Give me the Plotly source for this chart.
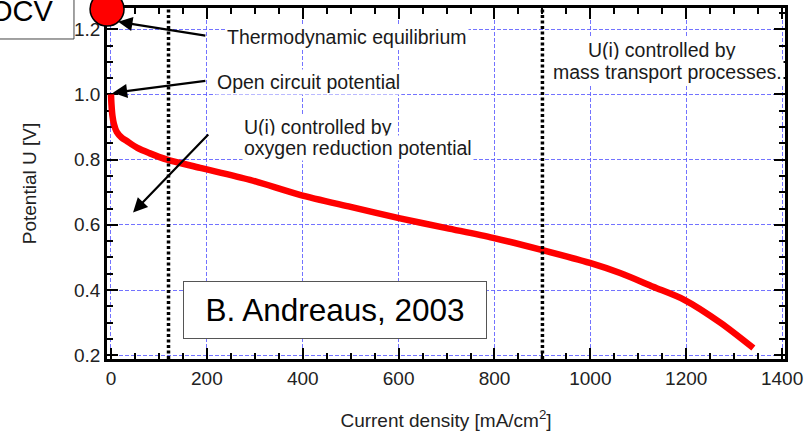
import plotly.graph_objects as go

# ---- data ----
current_density = [0, 1, 3, 6, 12, 22, 33, 55, 80, 117, 186, 290, 394, 500, 603, 700, 797, 898,
                   999, 1062, 1131, 1196, 1271, 1340]
potential = [1.0, 0.97, 0.935, 0.91, 0.885, 0.868, 0.857, 0.836, 0.82, 0.80, 0.775, 0.738,
             0.692, 0.655, 0.62, 0.59, 0.56, 0.523, 0.483, 0.452, 0.41, 0.37, 0.30, 0.222]
region_bounds = [120, 900]          # dotted vertical separators
ocv_point_x = [-8.2]
ocv_point_y = [1.262]
x_ticks = [0, 200, 400, 600, 800, 1000, 1200, 1400]
y_ticks = [0.2, 0.4, 0.6, 0.8, 1.0, 1.2]

FONT = "Liberation Sans, Arial, sans-serif"
TXT = 19.5
GRID = "rgba(90,90,255,0.85)"

fig = go.Figure()

fig.add_trace(go.Scatter(
    x=current_density, y=potential, mode="lines",
    line=dict(color="#ff0000", width=6.5, shape="spline", smoothing=0.8),
    showlegend=False, hoverinfo="skip"))

# OCV marker
fig.add_trace(go.Scatter(
    x=ocv_point_x, y=ocv_point_y, mode="markers", cliponaxis=False,
    marker=dict(size=34, color="#ff0000", line=dict(color="black", width=1.5)),
    showlegend=False, hoverinfo="skip"))

for xb in region_bounds:
    fig.add_shape(type="line", xref="x", yref="paper", x0=xb, x1=xb, y0=0, y1=1,
                  line=dict(color="black", width=3.5, dash="3px,2.5px"), layer="above")

# OCV box
fig.add_shape(type="rect", xref="paper", yref="paper", x0=-0.19, x1=-0.0487, y0=0.9117, y1=1.06,
              line=dict(color="#444", width=1), fillcolor="white", layer="above")
fig.add_annotation(xref="paper", yref="paper", x=-0.1254, y=0.9915, text="OCV",
                   showarrow=False, font=dict(family=FONT, size=29, color="black"),
                   xanchor="center", yanchor="middle")

# arrows
arrows = [((15, 1.223), (200, 1.18)),
          ((4, 1.005), (200, 1.042)),
          ((46, 0.638), (206, 0.882))]
for (hx, hy), (tx, ty) in arrows:
    fig.add_annotation(x=hx, y=hy, ax=tx, ay=ty, xref="x", yref="y", axref="x", ayref="y",
                       text="", showarrow=True, arrowhead=2, arrowsize=1.3, arrowwidth=2.2,
                       arrowcolor="black", standoff=0)

def label(x, y, text, anchor="left"):
    fig.add_annotation(x=x, y=y, xref="x", yref="y", text=text, showarrow=False,
                       xanchor=anchor, yanchor="middle", bgcolor="white", borderpad=1,
                       font=dict(family=FONT, size=TXT, color="#1a1a1a"))

label(238, 1.1764, "Thermodynamic equilibrium")
label(217, 1.0383, "Open circuit potential")
label(273, 0.9003, "U(i) controlled by")
label(273, 0.8359, "oxygen reduction potential")
label(1150, 1.1365, "U(i) controlled by", "center")
label(1160, 1.069, "mass transport processes.", "center")

fig.add_annotation(x=467, y=0.3374, xref="x", yref="y", text="B. Andreaus, 2003",
                   showarrow=False, xanchor="center", yanchor="middle",
                   bgcolor="white", bordercolor="#555", borderwidth=1, borderpad=10,
                   width=282, height=36,
                   font=dict(family=FONT, size=31.5, color="black"))

axis_common = dict(
    showline=True, linewidth=2.5, linecolor="black", mirror="ticks",
    ticks="inside", ticklen=11, tickwidth=2, tickcolor="black",
    showgrid=True, gridcolor=GRID, griddash="4px,2px", gridwidth=1,
    zeroline=False, layer="below traces",
    tickfont=dict(family=FONT, size=19, color="#222"),
)

fig.update_xaxes(**axis_common, range=[-8.3, 1406], tickvals=x_ticks,
                 minor=dict(dtick=50, tick0=0, ticklen=6, tickwidth=2, ticks="inside",
                            tickcolor="black", showgrid=False),
                 title=dict(text="Current density [mA/cm<sup>2</sup>]",
                            font=dict(family=FONT, size=19, color="#222"), standoff=27))
fig.update_yaxes(**axis_common, range=[0.1883, 1.2653], tickvals=y_ticks, tickformat=".1f",
                 minor=dict(dtick=0.05, tick0=0.2, ticklen=6, tickwidth=2, ticks="inside",
                            tickcolor="black", showgrid=False),
                 title=dict(text="Potential U [V]",
                            font=dict(family=FONT, size=19, color="#222"), standoff=33))

fig.update_layout(
    width=812, height=436, margin=dict(l=107, r=27, t=8, b=77, autoexpand=False),
    paper_bgcolor="white", plot_bgcolor="white", showlegend=False,
    font=dict(family=FONT),
)

fig.write_html("out.html")
